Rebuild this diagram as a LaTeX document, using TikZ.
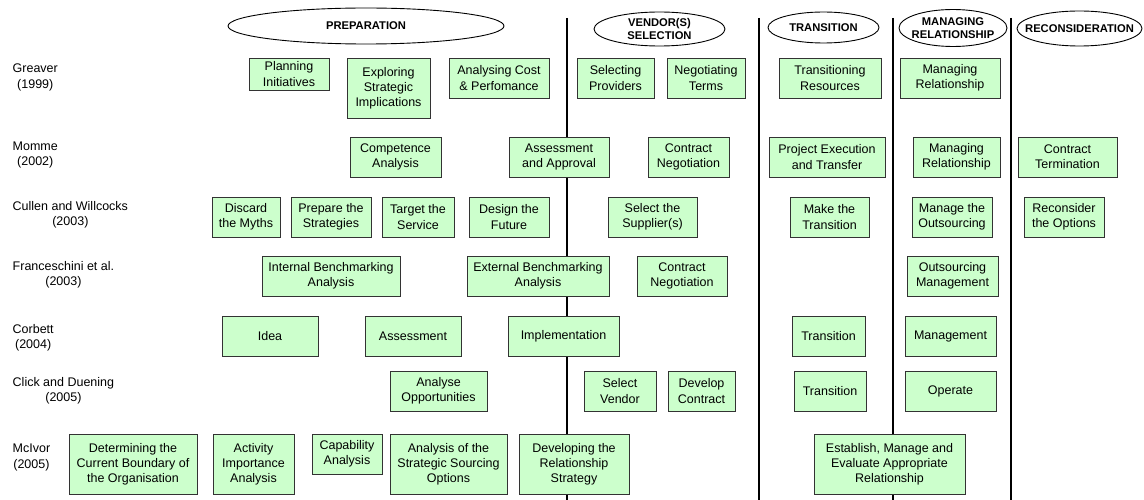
\documentclass[tikz,border=0pt]{standalone}
\usepackage{fontspec}
\setmainfont{Liberation Sans}
\usetikzlibrary{shapes.geometric}
\definecolor{boxfill}{HTML}{CCFFCC}
\definecolor{boxline}{HTML}{333333}

% stage box given by its corners (x1,y1) and (x2,y2)
\newcommand\stagenode[6]{%
  \node[stagebox, minimum width={#4-#2}, minimum height={#5-#3}]
    (#1) at ({(#2+#4)/2},{(#3+#5)/2}) {#6};}
% phase ellipse with its caption
\newcommand\phasenode[6]{%
  \node[phase, minimum width={#4}, minimum height={#5}] (#1) at (#2,#3) {};
  \node[phasetext] (#1-t) at (#1.center) {#6};}

\begin{document}
\begin{tikzpicture}[x=1pt,y=-1pt,
  stagebox/.style={draw=boxline, line width=0.9pt, fill=boxfill, inner sep=0pt,
    align=center, font=\fontsize{12.5}{15.2}\selectfont},
  phase/.style={ellipse, draw=black, line width=0.9pt, fill=white, inner sep=0pt},
  phasetext/.style={align=center, inner sep=0pt,
    font=\fontsize{11.2}{12.6}\selectfont\bfseries},
  author/.style={anchor=west, align=center, inner sep=0pt,
    font=\fontsize{12.5}{15.2}\selectfont},
  divider/.style={line width=2.8pt, draw=black}]

\useasboundingbox (0,0) rectangle (1144,500);

% phase dividers
\foreach \i/\xx in {1/567, 2/759, 3/893, 4/1011} {
  \coordinate (d\i-top) at (\xx,18);
  \coordinate (d\i-bot) at (\xx,500);
  \draw[divider] (d\i-top) -- (d\i-bot);
}

% phase headings
\phasenode{prep}{366}{26}{276}{36}{PREPARATION}
\phasenode{vend}{659.5}{29}{131}{34}{VENDOR(S)\\SELECTION}
\phasenode{trans}{823.5}{27.5}{111}{31}{TRANSITION}
\phasenode{manag}{953}{28}{108}{37}{MANAGING\\RELATIONSHIP}
\phasenode{recon}{1079.5}{28.5}{125}{35}{RECONSIDERATION}

% authors
\node[author] (greaver) at (12.5,77.5) {Greaver\\(1999)};
\node[author] (momme) at (12.5,155) {Momme\\(2002)};
\node[author] (cullen) at (12.5,215) {Cullen and Willcocks\\(2003)};
\node[author] (france) at (12.5,275) {Franceschini et al.\\(2003)};
\node[author] (corbett) at (12.5,337.5) {Corbett\\(2004)};
\node[author] (click) at (12.5,390.5) {Click and Duening\\(2005)};
\node[author] (mcivor) at (12.5,457.5) {McIvor\\(2005)};

% Greaver (1999)
\stagenode{g1}{249}{58}{329}{90}{Planning\\Initiatives}
\stagenode{g2}{347}{58}{430}{118}{Exploring\\Strategic\\Implications}
\stagenode{g3}{449}{58}{549}{98}{Analysing Cost\\\& Perfomance}
\stagenode{g4}{577}{58}{654}{98}{Selecting\\Providers}
\stagenode{g5}{667}{58}{745}{98}{Negotiating\\Terms}
\stagenode{g6}{779}{58}{881}{98}{Transitioning\\Resources}
\stagenode{g7}{900}{58}{1000}{98}{Managing\\Relationship}

% Momme (2002)
\stagenode{m1}{350}{137}{441}{177}{Competence\\Analysis}
\stagenode{m2}{509}{137}{609}{177}{Assessment\\and Approval}
\stagenode{m3}{648}{137}{729}{177}{Contract\\Negotiation}
\stagenode{m4}{769}{137}{885}{177}{Project Execution\\and Transfer}
\stagenode{m5}{913}{137}{1000}{177}{Managing\\Relationship}
\stagenode{m6}{1018}{137}{1117}{177}{Contract\\Termination}

% Cullen and Willcocks (2003)
\stagenode{c1}{212}{197}{280}{237}{Discard\\the Myths}
\stagenode{c2}{291}{197}{371}{237}{Prepare the\\Strategies}
\stagenode{c3}{382}{197}{454}{237}{Target the\\Service}
\stagenode{c4}{469}{197}{549}{237}{Design the\\Future}
\stagenode{c5}{608}{197}{697}{237}{Select the\\Supplier(s)}
\stagenode{c6}{790}{197}{869}{237}{Make the\\Transition}
\stagenode{c7}{912}{197}{992}{237}{Manage the\\Outsourcing}
\stagenode{c8}{1024}{197}{1104}{237}{Reconsider\\the Options}

% Franceschini et al. (2003)
\stagenode{f1}{262}{256}{400}{296}{Internal Benchmarking\\Analysis}
\stagenode{f2}{467}{256}{609}{296}{External Benchmarking\\Analysis}
\stagenode{f3}{637}{256}{727}{296}{Contract\\Negotiation}
\stagenode{f4}{907}{256}{998}{296}{Outsourcing\\Management}

% Corbett (2004)
\stagenode{k1}{222}{316}{318}{356}{Idea}
\stagenode{k2}{365}{316}{461}{356}{Assessment}
\stagenode{k3}{508}{316}{619}{356}{Implementation}
\stagenode{k4}{792}{316}{865}{356}{Transition}
\stagenode{k5}{905}{316}{996}{356}{Management}

% Click and Duening (2005)
\stagenode{d1}{390}{371}{487}{411}{Analyse\\Opportunities}
\stagenode{d2}{584}{371}{656}{411}{Select\\Vendor}
\stagenode{d3}{668}{371}{735}{411}{Develop\\Contract}
\stagenode{d4}{794}{371}{866}{411}{Transition}
\stagenode{d5}{905}{371}{996}{411}{Operate}

% McIvor (2005)
\stagenode{v1}{69}{434}{197}{494}{Determining the\\Current Boundary of\\the Organisation}
\stagenode{v2}{213}{434}{294}{494}{Activity\\Importance\\Analysis}
\stagenode{v3}{312}{434}{382}{474}{Capability\\Analysis}
\stagenode{v4}{390}{434}{507}{494}{Analysis of the\\Strategic Sourcing\\Options}
\stagenode{v5}{519}{434}{629}{494}{Developing the\\Relationship\\Strategy}
\stagenode{v6}{814}{434}{965}{494}{Establish, Manage and\\Evaluate Appropriate\\Relationship}

\end{tikzpicture}
\end{document}
